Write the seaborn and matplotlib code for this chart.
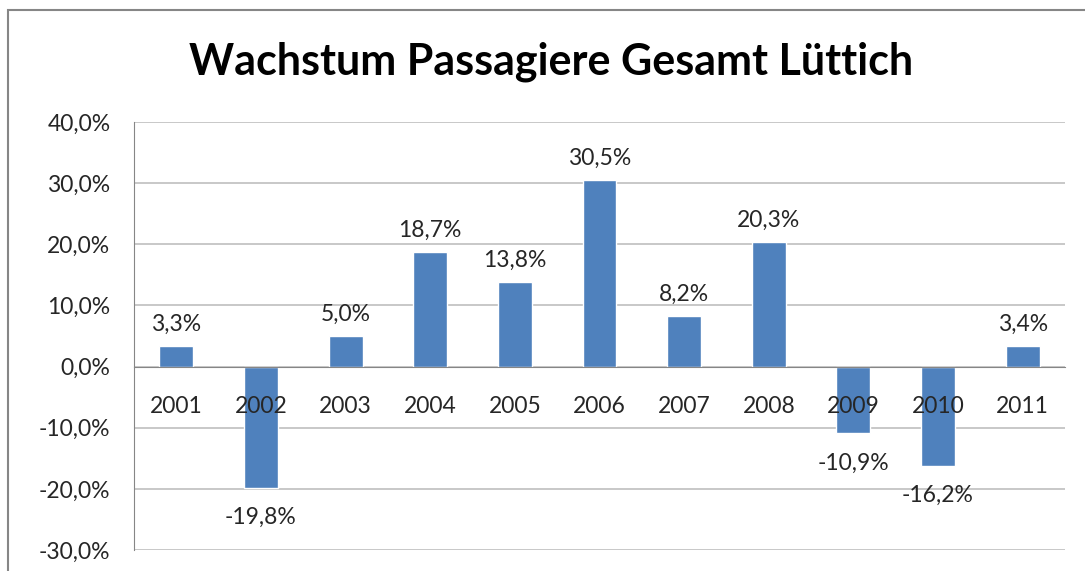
import numpy as np
import pandas as pd
import matplotlib
matplotlib.use("Agg")
import matplotlib.pyplot as plt
from matplotlib.patches import Rectangle
import seaborn as sns

# Data
years = ["2001", "2002", "2003", "2004", "2005", "2006", "2007", "2008", "2009", "2010", "2011"]
growth = [3.3, -19.8, 5.0, 18.7, 13.8, 30.5, 8.2, 20.3, -10.9, -16.2, 3.4]

df = pd.DataFrame({"Jahr": years, "Wachstum": growth})

sns.set_style("white")
plt.rcParams['font.family'] = ['Lato', 'DejaVu Sans']

fig = plt.figure(figsize=(10.85, 5.71), dpi=100)
ax = fig.add_axes([134 / 1085, 21 / 571, (1065 - 134) / 1085, 428 / 571])

sns.barplot(data=df, x="Jahr", y="Wachstum", color="#4F81BD", width=0.4,
            saturation=1, ax=ax, zorder=1)

yticks = np.arange(-30, 41, 10)
ax.set_ylim(-30, 40)
ax.set_xlim(-0.5, len(years) - 0.5)
ax.set_yticks(yticks)
ax.set_yticklabels([f"{v:.1f}%".replace(".", ",") for v in yticks])
ax.grid(False)
ax.set_axisbelow(False)  # year labels are drawn on top of the bars
# gridlines behind the bars
for v in yticks:
    ax.axhline(v, color="#BFBFBF", lw=1.2, zorder=0)
ax.set_xlabel("")
ax.set_ylabel("")

# x axis sits on the zero line, tick marks between categories
ax.spines['bottom'].set_position(('data', 0))
ax.spines['bottom'].set_color("#868686")
ax.spines['left'].set_color("#868686")
ax.spines['top'].set_visible(False)
ax.spines['right'].set_visible(False)
ax.set_xticks(np.arange(-0.5, len(years), 1), minor=True)
ax.tick_params(axis='x', which='major', length=0, pad=21, labelsize=16.5, labelcolor="#262626")
ax.tick_params(axis='x', which='minor', length=6, color="#868686", direction='out')
ax.tick_params(axis='y', length=6, color="#868686", labelsize=16.5, labelcolor="#262626", pad=11)

# value labels
for i, v in enumerate(growth):
    txt = f"{v:.1f}%".replace(".", ",")
    if v >= 0:
        ax.annotate(txt, (i, v), xytext=(0, 8), textcoords="offset points",
                    ha="center", va="bottom", fontsize=16.5, color="#262626")
    else:
        ax.annotate(txt, (i, v), xytext=(0, -14), textcoords="offset points",
                    ha="center", va="top", fontsize=16.5, color="#262626")

fig.text(551 / 1085, 1 - 62 / 571, "Wachstum Passagiere Gesamt Lüttich",
         ha="center", va="center", fontsize=31, fontweight="bold", color="black")

# outer chart frame
fig.patches.append(Rectangle((8 / 1085, -0.1), 2, 0.1 + (571 - 10) / 571,
                             transform=fig.transFigure, fill=False,
                             edgecolor="#868686", lw=1.5))

fig.savefig("out.png", dpi=100)
